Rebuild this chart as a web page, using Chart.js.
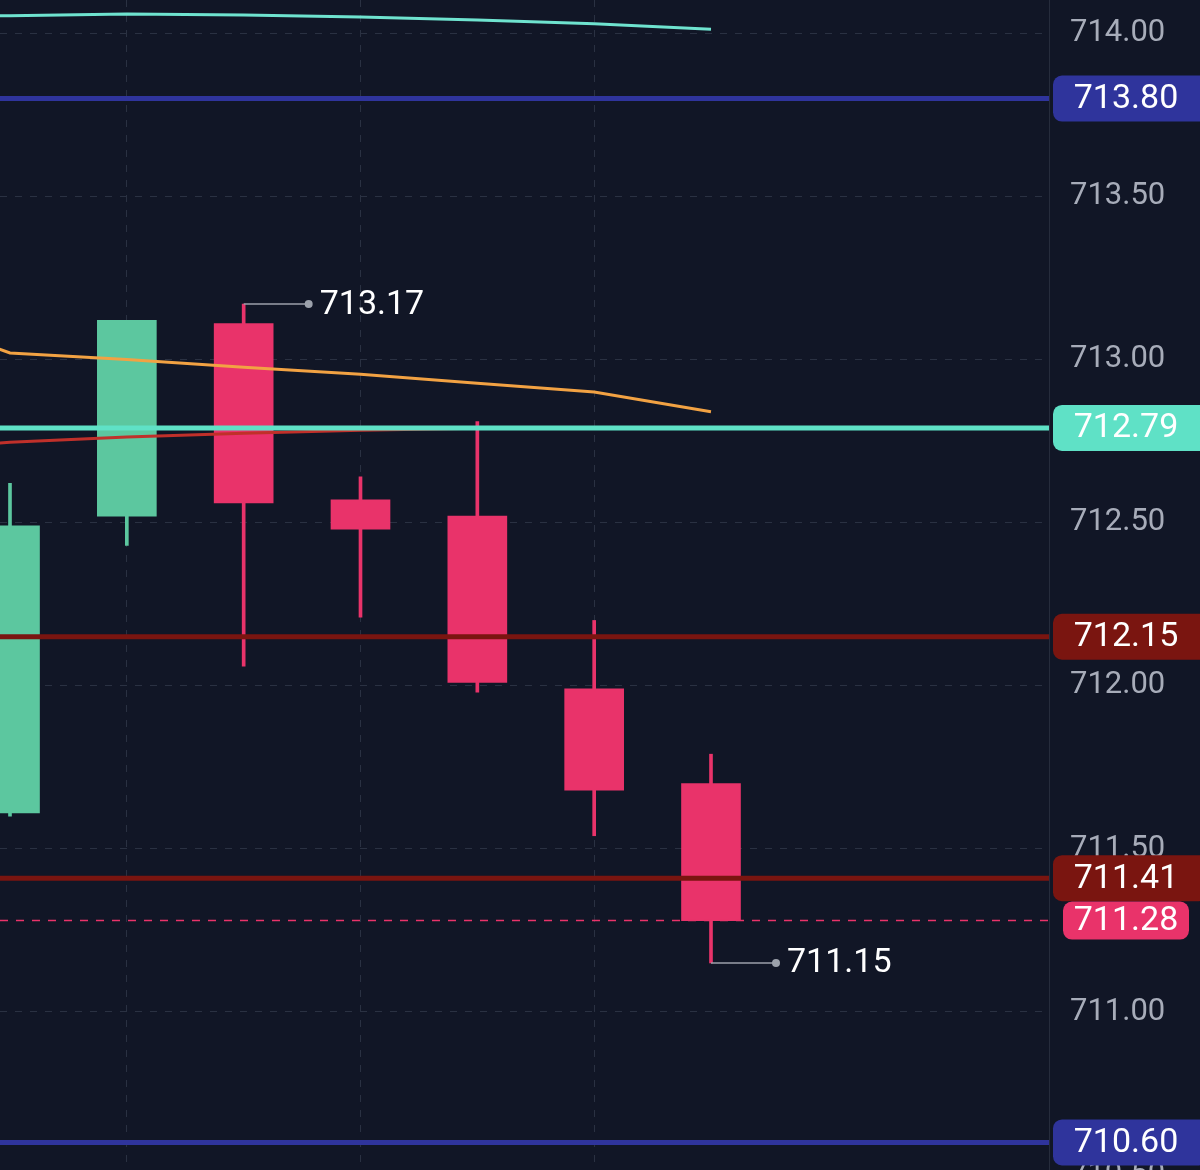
<!DOCTYPE html>
<html>
<head>
<meta charset="utf-8">
<script src="https://cdn.jsdelivr.net/npm/chart.js@4"></script>
<style>
  html, body { margin: 0; padding: 0; background: #111626; overflow: hidden; }
  canvas { display: block; }
</style>
</head>
<body>
<canvas id="myChart" width="1200" height="1175"></canvas>
<script>
// candles (index = bar slot)
const candleIdx = [0, 1, 2, 3, 4, 5, 6];
const opens  = [711.61, 712.52, 713.11, 712.57, 712.52, 711.99, 711.70];
const closes = [712.49, 713.12, 712.56, 712.48, 712.01, 711.68, 711.28];
const highs  = [712.62, 713.12, 713.17, 712.64, 712.81, 712.20, 711.79];
const lows   = [711.60, 712.43, 712.06, 712.21, 711.98, 711.54, 711.15];

// moving averages
const maIdx  = [-1, 0, 1, 2, 3, 4, 5, 6];
const maSlow = [714.051, 714.054, 714.059, 714.056, 714.050, 714.041, 714.029, 714.012];
const maMid  = [713.15, 713.02, 713.00, 712.976, 712.955, 712.927, 712.90, 712.84];
const maFast = [712.72, 712.746, 712.762, 712.774, 712.783, 712.789];

// horizontal price levels
const levelValues = [713.80, 712.79, 712.15, 711.41, 710.60];
const levelColors = ["#2f349c", "#5fe1c6", "#7a1510", "#7a1510", "#2f349c"];
const lastPrice = 711.28;

// vertical grid columns
const gridCols = [1, 3, 5];

const UP = "#5cc79f";
const DOWN = "#e9336a";
const candleColors = candleIdx.map((i) => (closes[i] >= opens[i] ? UP : DOWN));

Chart.defaults.font.family = "Roboto, 'Noto Sans', sans-serif";

const overlay = {
  id: "overlay",
  beforeDraw(chart) {
    const c = chart.ctx;
    c.save();
    c.fillStyle = "#111626";
    c.fillRect(0, 0, chart.width, chart.height);
    c.restore();
  },
  afterDatasetsDraw(chart) {
    const c = chart.ctx;
    const area = chart.chartArea;
    const x = chart.scales.x;
    const y = chart.scales.y;
    c.save();
    c.beginPath();
    c.rect(area.left, 0, area.right - area.left, chart.height);
    c.clip();

    // last price dashed line
    const py = y.getPixelForValue(lastPrice);
    c.strokeStyle = DOWN;
    c.lineWidth = 1.5;
    c.setLineDash([8, 8]);
    c.beginPath();
    c.moveTo(area.left, py);
    c.lineTo(area.right, py);
    c.stroke();
    c.setLineDash([]);

    // level lines
    levelValues.forEach((v, i) => {
      const ly = y.getPixelForValue(v);
      c.strokeStyle = levelColors[i];
      c.lineWidth = 5;
      c.beginPath();
      c.moveTo(area.left, ly);
      c.lineTo(area.right, ly);
      c.stroke();
    });

    // high / low markers
    const hi = highs.indexOf(Math.max(...highs));
    const lo = lows.indexOf(Math.min(...lows));
    const marks = [
      [x.getPixelForValue(candleIdx[hi]), y.getPixelForValue(highs[hi]), highs[hi]],
      [x.getPixelForValue(candleIdx[lo]), y.getPixelForValue(lows[lo]), lows[lo]],
    ];
    marks.forEach(([mx, my, v]) => {
      c.strokeStyle = "#9ca1ab";
      c.lineWidth = 1.5;
      c.beginPath();
      c.moveTo(mx, my);
      c.lineTo(mx + 65, my);
      c.stroke();
      c.fillStyle = "#9ca1ab";
      c.beginPath();
      c.arc(mx + 65, my, 4, 0, Math.PI * 2);
      c.fill();
      c.fillStyle = "#ffffff";
      c.font = "34px Roboto";
      c.textAlign = "left";
      c.textBaseline = "middle";
      c.fillText(v.toFixed(2), mx + 76, my + 1);
    });
    c.restore();
  },
  afterDraw(chart) {
    const c = chart.ctx;
    const area = chart.chartArea;
    const y = chart.scales.y;
    const badge = (v, color, x0, x1, h) => {
      const by = y.getPixelForValue(v);
      c.fillStyle = color;
      c.beginPath();
      c.roundRect(x0, by - h / 2, x1 - x0, h, 9);
      c.fill();
      c.fillStyle = "#ffffff";
      c.font = "34px Roboto";
      c.textAlign = "center";
      c.textBaseline = "middle";
      c.fillText(v.toFixed(2), 1126, by + 1);
    };
    c.save();
    levelValues.forEach((v, i) => badge(v, levelColors[i], area.right + 4, chart.width + 8, 46));
    badge(lastPrice, DOWN, area.right + 14, area.right + 140, 38);
    c.restore();
  },
};

const config = {
  type: "bar",
  data: {
    datasets: [
      {
        type: "line",
        data: maIdx.map((v, i) => ({ x: v, y: maSlow[i] })),
        borderColor: "#6fe3cf",
        borderWidth: 3,
        pointRadius: 0,
        tension: 0,
        order: 0,
      },
      {
        type: "line",
        data: maIdx.map((v, i) => ({ x: v, y: maMid[i] })),
        borderColor: "#f2a243",
        borderWidth: 3,
        pointRadius: 0,
        tension: 0,
        order: 0,
      },
      {
        type: "line",
        data: maFast.map((v, i) => ({ x: maIdx[i], y: v })),
        borderColor: "#c0302a",
        borderWidth: 3,
        pointRadius: 0,
        tension: 0,
        order: 0,
      },
      {
        data: candleIdx.map((v, i) => ({ x: v, y: [lows[i], highs[i]] })),
        backgroundColor: candleColors,
        barThickness: 3,
        grouped: false,
        order: 2,
      },
      {
        data: candleIdx.map((v, i) => ({ x: v, y: [opens[i], closes[i]] })),
        backgroundColor: candleColors,
        barThickness: 59,
        grouped: false,
        order: 1,
      },
    ],
  },
  options: {
    responsive: false,
    animation: false,
    layout: { padding: 0 },
    plugins: { legend: { display: false }, tooltip: { enabled: false } },
    scales: {
      x: {
        type: "linear",
        min: -0.0856,
        max: 8.893,
        offset: false,
        afterBuildTicks: (s) => { s.ticks = gridCols.map((v) => ({ value: v })); },
        afterFit: (s) => { s.height = 0; s.paddingLeft = 0; s.paddingRight = 0; },
        ticks: { display: false },
        grid: { color: "#2a3142", lineWidth: 1, drawTicks: false, offset: false },
        border: { display: false, dash: [7, 8] },
      },
      y: {
        position: "right",
        min: 710.5,
        max: 714.102,
        afterFit: (s) => { s.width = 151; s.paddingTop = 0; s.paddingBottom = 0; },
        ticks: {
          stepSize: 0.5,
          includeBounds: false,
          padding: 21,
          color: "#a7acb9",
          font: { size: 31 },
          callback: (v) => v.toFixed(2),
        },
        grid: { color: "#2a3142", lineWidth: 1, drawTicks: false },
        border: { display: true, color: "#262c3c", width: 1, dash: [7, 8] },
      },
    },
  },
  plugins: [overlay],
};

const myChart = new Chart(document.getElementById("myChart"), config);
</script>
</body>
</html>
